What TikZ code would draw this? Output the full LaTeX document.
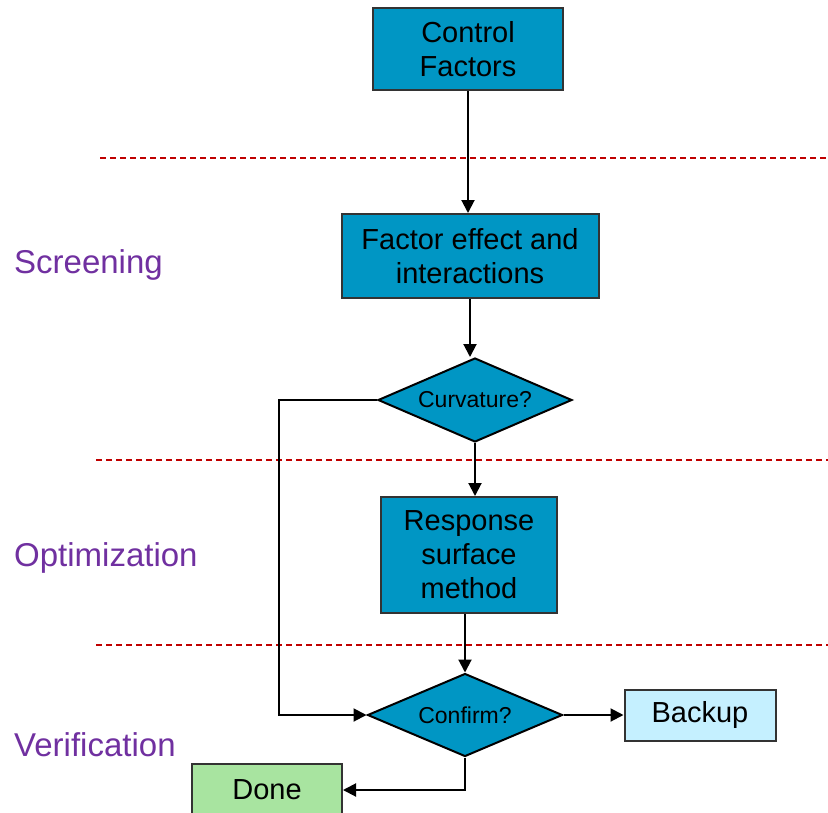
\documentclass[tikz,border=0pt]{standalone}
\usepackage{fontspec}
\setmainfont{Liberation Sans}
\usetikzlibrary{shapes.geometric,arrows.meta}

\definecolor{procblue}{RGB}{0,150,196}
\definecolor{backcyan}{RGB}{197,240,255}
\definecolor{donegreen}{RGB}{168,228,160}
\definecolor{phasepurple}{RGB}{112,48,160}
\definecolor{sepred}{RGB}{192,0,0}

\begin{document}
\begin{tikzpicture}[
  x=1pt, y=-1pt,
  blk/.style={draw=black!80, line width=2pt, fill=procblue, align=center,
    inner sep=0pt, font=\fontsize{29}{34}\selectfont},
  dcsn/.style={diamond, aspect=2.3, draw, line width=2pt, fill=procblue,
    inner sep=0pt, font=\fontsize{23}{27}\selectfont},
  phase/.style={text=phasepurple, anchor=west, inner sep=0pt,
    font=\fontsize{33}{38}\selectfont},
  phaseline/.style={draw=sepred, line width=1.8pt, dash pattern=on 6pt off 4pt},
  flow/.style={line width=2pt, -{Triangle[length=13pt,width=13pt]}}
]

\useasboundingbox (0,0) rectangle (828,812);

\draw [phaseline] (100,158) -- (828,158);
\draw [phaseline] (96,460) -- (828,460);
\draw [phaseline] (96,645) -- (828,645);

\node [phase] (scr) at (14,265) {Screening};
\node [phase] (opt) at (14,558) {Optimization};
\node [phase] (ver) at (14,745) {Verification};

\node [blk, minimum width=190, minimum height=82] (ctrl) at (468,49) {Control\\Factors};
\node [blk, minimum width=257, minimum height=84] (fact) at (470,256) {Factor effect and\\interactions};
\node [dcsn, minimum width=194, minimum height=84] (curv) at (475,400) {Curvature?};
\node [blk, minimum width=176, minimum height=116] (resp) at (469,555) {Response\\surface\\method};
\node [dcsn, minimum width=195, minimum height=83] (conf) at (465,715) {Confirm?};
\node [blk, fill=backcyan, minimum width=151, minimum height=51] (back) at (700,715) {Backup};
\node [blk, fill=donegreen, minimum width=150, minimum height=52] (done) at (267,790) {Done};

\draw [flow] (ctrl.south) -- (ctrl.south |- fact.north);
\draw [flow] (fact.south) -- (fact.south |- curv.north);
\draw [flow] (curv.south) -- (curv.south |- resp.north);
\draw [flow] (conf.north |- resp.south) -- (conf.north);
\draw [flow] (curv.west) -- ++(-98,0) |- (conf.west);
\draw [flow] (conf.east) -- (back.west);
\draw [flow] (conf.south) |- (done.east);

\end{tikzpicture}
\end{document}
